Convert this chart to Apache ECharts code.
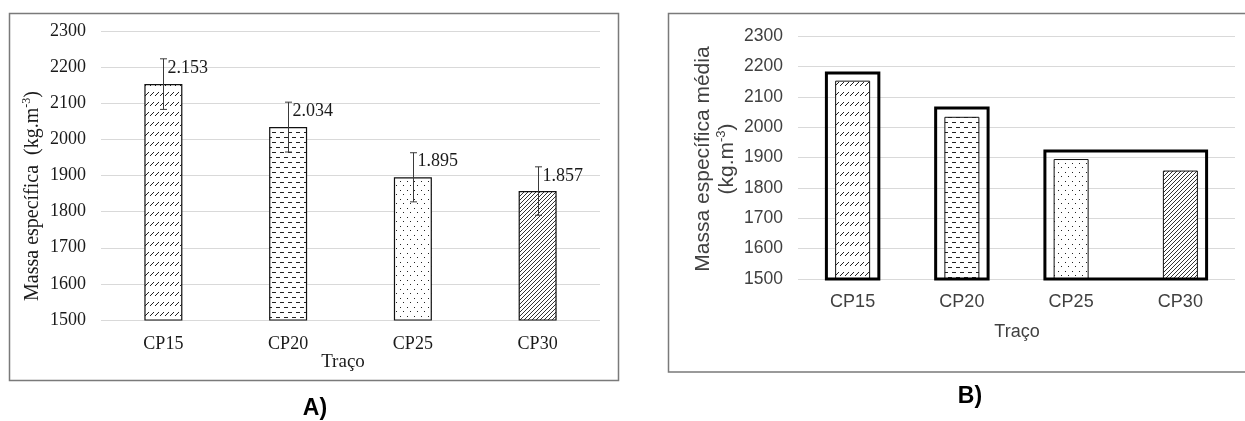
<!DOCTYPE html>
<html><head><meta charset="utf-8">
<script src="https://cdn.jsdelivr.net/npm/echarts@6/dist/echarts.min.js"></script>
<style>html,body{margin:0;padding:0;background:#fff}#c{width:1245px;height:421px}</style>
</head><body><div id="c"></div>
<script>
// ---------- data ----------
const categories = ['CP15', 'CP20', 'CP25', 'CP30'];
const meanDensity = [2153, 2034, 1895, 1857];      // kg/m3
const errorDensity = [70, 69, 68, 67];             // error bar half-length (panel A)
const yMin = 1500, yMax = 2300, yStep = 100;
// panel B: grouping boxes (start category index, end category index, top value)
const groupStart = [0, 1, 2];
const groupEnd = [0, 1, 3];
const groupTop = [2178, 2063, 1921];
const titleA = 'Massa específica  (kg.m';
const titleB1 = 'Massa específica média';
const titleB2 = '(kg.m';
const xTitle = 'Traço';

// ---------- fill patterns ----------
function tile(w, h, draw) {
  const c = document.createElement('canvas');
  c.width = w; c.height = h;
  const ctx = c.getContext('2d');
  ctx.fillStyle = '#fff'; ctx.fillRect(0, 0, w, h);
  ctx.fillStyle = '#222';
  draw(ctx);
  return { image: c, repeat: 'repeat' };
}
const patterns = [
  tile(5, 10, ctx => { [[0,5],[1,4],[2,3],[3,2]].forEach(p => ctx.fillRect(p[0], p[1], 1, 1)); }),
  tile(8, 10, ctx => { ctx.fillRect(0, 2, 4, 1); ctx.fillRect(4, 7, 4, 1); }),
  tile(7, 9, ctx => { ctx.fillRect(1, 1, 1, 1); ctx.fillRect(4, 5, 1, 1); }),
  tile(4, 4, ctx => { ctx.fillStyle = '#333'; [[0,3],[1,2],[2,1],[3,0]].forEach(p => ctx.fillRect(p[0], p[1], 1, 1)); })
];

const serif = 'Liberation Serif';
const sans = 'Liberation Sans';
const colA = '#1a1a1a';
const colB = '#404040';
const plain = v => String(v);

const chart = echarts.init(document.getElementById('c'), null, { renderer: 'canvas' });

function renderErr(params, api) {
  const i = api.value(0);
  const lo = api.coord([i, api.value(1)]);
  const hi = api.coord([i, api.value(2)]);
  const x = Math.round(lo[0]) + 0.5;
  const cap = 3.5;
  const ls = { stroke: '#3a3a3a', lineWidth: 1 };
  return {
    type: 'group', children: [
      { type: 'line', shape: { x1: x, y1: lo[1], x2: x, y2: hi[1] }, style: ls },
      { type: 'line', shape: { x1: x - cap, y1: hi[1], x2: x + cap, y2: hi[1] }, style: ls },
      { type: 'line', shape: { x1: x - cap, y1: lo[1], x2: x + cap, y2: lo[1] }, style: ls },
      { type: 'text', x: x + 4, y: hi[1] + 9,
        style: { text: (api.value(3) / 1000).toFixed(3), fill: colA, fontFamily: serif, fontSize: 18,
                 align: 'left', verticalAlign: 'middle' } }
    ]
  };
}

function renderBox(params, api) {
  const s = api.value(0), e = api.value(1), top = api.value(2);
  const pTop = api.coord([s, top]);
  const pEnd = api.coord([e, yMin]);
  const half = api.size([1, 0])[0] * 0.24;
  const x0 = pTop[0] - half, x1 = pEnd[0] + half;
  return { type: 'rect', shape: { x: x0, y: pTop[1], width: x1 - x0, height: pEnd[1] - pTop[1] },
           style: { fill: 'none', stroke: '#000', lineWidth: 3 } };
}

const option = {
  animation: false,
  backgroundColor: '#fff',
  grid: [
    { left: 101, top: 31, width: 499, height: 289 },
    { left: 798, top: 36, width: 437, height: 243 }
  ],
  xAxis: [
    { gridIndex: 0, type: 'category', data: categories,
      axisLine: { show: false }, axisTick: { show: false },
      axisLabel: { color: colA, fontFamily: serif, fontSize: 18, margin: 15 } },
    { gridIndex: 1, type: 'category', data: categories,
      axisLine: { show: false }, axisTick: { show: false },
      axisLabel: { color: colB, fontFamily: sans, fontSize: 18, margin: 14 } }
  ],
  yAxis: [
    { gridIndex: 0, type: 'value', min: yMin, max: yMax, interval: yStep,
      axisLine: { show: false }, axisTick: { show: false },
      axisLabel: { color: colA, fontFamily: serif, fontSize: 18, margin: 15, formatter: plain },
      splitLine: { lineStyle: { color: '#d9d9d9', width: 1 } } },
    { gridIndex: 1, type: 'value', min: yMin, max: yMax, interval: yStep,
      axisLine: { show: false }, axisTick: { show: false },
      axisLabel: { color: colB, fontFamily: sans, fontSize: 17.5, margin: 15, formatter: plain },
      splitLine: { lineStyle: { color: '#d9d9d9', width: 1 } } }
  ],
  series: [
    { type: 'bar', xAxisIndex: 0, yAxisIndex: 0, barWidth: 38,
      data: meanDensity.map((v, i) => ({ value: v, itemStyle: { color: patterns[i] } })),
      itemStyle: { borderColor: '#111', borderWidth: 1.2 } },
    { type: 'custom', xAxisIndex: 0, yAxisIndex: 0, renderItem: renderErr, z: 5,
      encode: { x: 0, y: [1, 2] },
      data: meanDensity.map((v, i) => [i, v - errorDensity[i], v + errorDensity[i], v]) },
    { type: 'bar', xAxisIndex: 1, yAxisIndex: 1, barWidth: 35,
      data: meanDensity.map((v, i) => ({ value: v, itemStyle: { color: patterns[i] } })),
      itemStyle: { borderColor: '#111', borderWidth: 1 } },
    { type: 'custom', xAxisIndex: 1, yAxisIndex: 1, renderItem: renderBox, z: 5,
      encode: { x: [0, 1], y: 2 },
      data: groupStart.map((s, k) => [s, groupEnd[k], groupTop[k]]) }
  ],
  graphic: [
    { type: 'rect', z: -1, shape: { x: 9.5, y: 13.5, width: 609, height: 367 },
      style: { fill: 'none', stroke: '#7a7a7a', lineWidth: 1.5 } },
    { type: 'rect', z: -1, shape: { x: 668.5, y: 13.5, width: 590, height: 358.5 },
      style: { fill: 'none', stroke: '#7a7a7a', lineWidth: 1.5 } },
    { type: 'text', x: 33, y: 196, rotation: Math.PI / 2,
      style: { text: '{a|' + titleA + '}{s|-3}{a|)}', align: 'center', verticalAlign: 'middle',
        rich: { a: { fontFamily: serif, fontSize: 20, fill: colA, lineHeight: 24 },
                s: { fontFamily: serif, fontSize: 12, fill: colA, lineHeight: 24, verticalAlign: 'top' } } } },
    { type: 'text', x: 343, y: 362,
      style: { text: xTitle, fill: colA, fontFamily: serif, fontSize: 19, align: 'center', verticalAlign: 'middle' } },
    { type: 'text', x: 715, y: 159, rotation: Math.PI / 2,
      style: { text: '{a|' + titleB1 + '}\n{a|' + titleB2 + '}{s|-3}{a|)}', align: 'center', verticalAlign: 'middle',
        rich: { a: { fontFamily: sans, fontSize: 21, fill: colB, lineHeight: 24 },
                s: { fontFamily: sans, fontSize: 13, fill: colB, lineHeight: 24, verticalAlign: 'top' } } } },
    { type: 'text', x: 1017, y: 332,
      style: { text: xTitle, fill: colB, fontFamily: sans, fontSize: 18, align: 'center', verticalAlign: 'middle' } },
    { type: 'text', x: 315, y: 409,
      style: { text: 'A)', fill: '#000', fontFamily: sans, fontWeight: 'bold', fontSize: 23, align: 'center', verticalAlign: 'middle' } },
    { type: 'text', x: 970, y: 397,
      style: { text: 'B)', fill: '#000', fontFamily: sans, fontWeight: 'bold', fontSize: 23, align: 'center', verticalAlign: 'middle' } }
  ]
};
chart.setOption(option);
</script>
</body></html>
